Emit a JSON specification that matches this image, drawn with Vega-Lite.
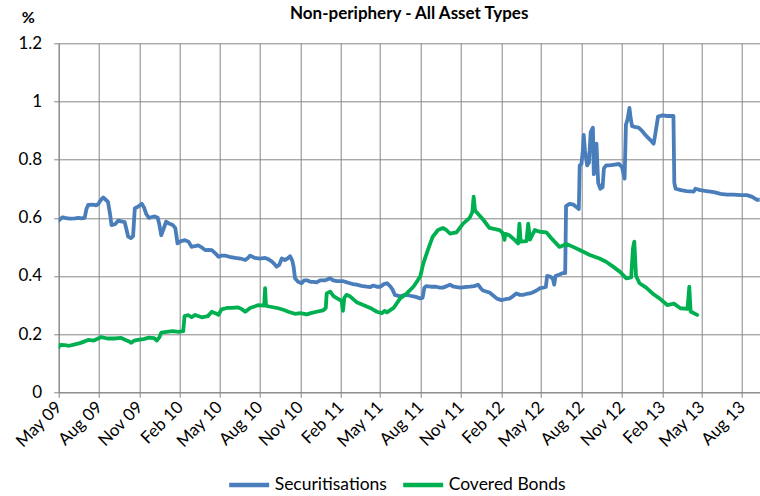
{
  "$schema": "https://vega.github.io/schema/vega-lite/v6.json",
  "autosize": "none",
  "width": 701,
  "height": 349,
  "padding": {"left": 58.7, "top": 43.3, "right": 0, "bottom": 103.7},
  "background": "white",
  "config": {"font": "Lato", "view": {"stroke": null}},
  "title": {"text": "Non-periphery - All Asset Types", "anchor": "middle", "fontSize": 17, "fontWeight": "bold", "font": "Lato", "color": "#000000", "offset": 0, "dy": 14},
  "data": {"values": [
{"date":"2009-05-01","series":"Securitisations","value":0.59},{"date":"2009-05-04","series":"Securitisations","value":0.595},{"date":"2009-05-10","series":"Securitisations","value":0.602},{"date":"2009-05-15","series":"Securitisations","value":0.6},{"date":"2009-05-25","series":"Securitisations","value":0.597},{"date":"2009-06-07","series":"Securitisations","value":0.598},{"date":"2009-06-15","series":"Securitisations","value":0.6},{"date":"2009-06-22","series":"Securitisations","value":0.598},{"date":"2009-06-29","series":"Securitisations","value":0.6},{"date":"2009-07-03","series":"Securitisations","value":0.63},{"date":"2009-07-07","series":"Securitisations","value":0.644},{"date":"2009-07-18","series":"Securitisations","value":0.645},{"date":"2009-07-25","series":"Securitisations","value":0.643},{"date":"2009-07-30","series":"Securitisations","value":0.647},{"date":"2009-08-04","series":"Securitisations","value":0.66},{"date":"2009-08-10","series":"Securitisations","value":0.67},{"date":"2009-08-16","series":"Securitisations","value":0.662},{"date":"2009-08-21","series":"Securitisations","value":0.655},{"date":"2009-08-26","series":"Securitisations","value":0.61},{"date":"2009-08-29","series":"Securitisations","value":0.575},{"date":"2009-09-06","series":"Securitisations","value":0.578},{"date":"2009-09-13","series":"Securitisations","value":0.59},{"date":"2009-09-20","series":"Securitisations","value":0.588},{"date":"2009-09-28","series":"Securitisations","value":0.585},{"date":"2009-10-02","series":"Securitisations","value":0.56},{"date":"2009-10-06","series":"Securitisations","value":0.535},{"date":"2009-10-12","series":"Securitisations","value":0.53},{"date":"2009-10-17","series":"Securitisations","value":0.537},{"date":"2009-10-21","series":"Securitisations","value":0.633},{"date":"2009-10-28","series":"Securitisations","value":0.638},{"date":"2009-11-06","series":"Securitisations","value":0.648},{"date":"2009-11-11","series":"Securitisations","value":0.635},{"date":"2009-11-16","series":"Securitisations","value":0.613},{"date":"2009-11-22","series":"Securitisations","value":0.6},{"date":"2009-11-27","series":"Securitisations","value":0.602},{"date":"2009-12-05","series":"Securitisations","value":0.605},{"date":"2009-12-12","series":"Securitisations","value":0.6},{"date":"2009-12-16","series":"Securitisations","value":0.575},{"date":"2009-12-20","series":"Securitisations","value":0.54},{"date":"2009-12-25","series":"Securitisations","value":0.56},{"date":"2009-12-31","series":"Securitisations","value":0.587},{"date":"2010-01-07","series":"Securitisations","value":0.58},{"date":"2010-01-15","series":"Securitisations","value":0.575},{"date":"2010-01-21","series":"Securitisations","value":0.565},{"date":"2010-01-26","series":"Securitisations","value":0.512},{"date":"2010-02-03","series":"Securitisations","value":0.52},{"date":"2010-02-12","series":"Securitisations","value":0.523},{"date":"2010-02-20","series":"Securitisations","value":0.518},{"date":"2010-02-27","series":"Securitisations","value":0.5},{"date":"2010-03-07","series":"Securitisations","value":0.503},{"date":"2010-03-14","series":"Securitisations","value":0.505},{"date":"2010-03-22","series":"Securitisations","value":0.498},{"date":"2010-03-30","series":"Securitisations","value":0.489},{"date":"2010-04-07","series":"Securitisations","value":0.49},{"date":"2010-04-14","series":"Securitisations","value":0.489},{"date":"2010-04-22","series":"Securitisations","value":0.478},{"date":"2010-04-29","series":"Securitisations","value":0.466},{"date":"2010-05-06","series":"Securitisations","value":0.47},{"date":"2010-05-14","series":"Securitisations","value":0.47},{"date":"2010-05-24","series":"Securitisations","value":0.466},{"date":"2010-06-06","series":"Securitisations","value":0.462},{"date":"2010-06-18","series":"Securitisations","value":0.46},{"date":"2010-06-29","series":"Securitisations","value":0.455},{"date":"2010-07-05","series":"Securitisations","value":0.462},{"date":"2010-07-10","series":"Securitisations","value":0.47},{"date":"2010-07-21","series":"Securitisations","value":0.462},{"date":"2010-08-01","series":"Securitisations","value":0.46},{"date":"2010-08-13","series":"Securitisations","value":0.462},{"date":"2010-08-20","series":"Securitisations","value":0.458},{"date":"2010-08-28","series":"Securitisations","value":0.45},{"date":"2010-09-04","series":"Securitisations","value":0.44},{"date":"2010-09-08","series":"Securitisations","value":0.432},{"date":"2010-09-14","series":"Securitisations","value":0.438},{"date":"2010-09-20","series":"Securitisations","value":0.46},{"date":"2010-09-27","series":"Securitisations","value":0.455},{"date":"2010-10-03","series":"Securitisations","value":0.46},{"date":"2010-10-09","series":"Securitisations","value":0.468},{"date":"2010-10-14","series":"Securitisations","value":0.452},{"date":"2010-10-17","series":"Securitisations","value":0.43},{"date":"2010-10-20","series":"Securitisations","value":0.392},{"date":"2010-10-27","series":"Securitisations","value":0.38},{"date":"2010-11-04","series":"Securitisations","value":0.375},{"date":"2010-11-10","series":"Securitisations","value":0.385},{"date":"2010-11-16","series":"Securitisations","value":0.385},{"date":"2010-11-24","series":"Securitisations","value":0.38},{"date":"2010-12-01","series":"Securitisations","value":0.38},{"date":"2010-12-08","series":"Securitisations","value":0.378},{"date":"2010-12-16","series":"Securitisations","value":0.385},{"date":"2010-12-28","series":"Securitisations","value":0.385},{"date":"2011-01-08","series":"Securitisations","value":0.392},{"date":"2011-01-15","series":"Securitisations","value":0.385},{"date":"2011-01-23","series":"Securitisations","value":0.382},{"date":"2011-02-07","series":"Securitisations","value":0.382},{"date":"2011-02-15","series":"Securitisations","value":0.378},{"date":"2011-02-22","series":"Securitisations","value":0.375},{"date":"2011-03-01","series":"Securitisations","value":0.372},{"date":"2011-03-09","series":"Securitisations","value":0.37},{"date":"2011-03-20","series":"Securitisations","value":0.366},{"date":"2011-04-01","series":"Securitisations","value":0.363},{"date":"2011-04-09","series":"Securitisations","value":0.362},{"date":"2011-04-16","series":"Securitisations","value":0.367},{"date":"2011-04-24","series":"Securitisations","value":0.363},{"date":"2011-05-02","series":"Securitisations","value":0.363},{"date":"2011-05-10","series":"Securitisations","value":0.372},{"date":"2011-05-17","series":"Securitisations","value":0.375},{"date":"2011-05-24","series":"Securitisations","value":0.365},{"date":"2011-05-29","series":"Securitisations","value":0.355},{"date":"2011-06-04","series":"Securitisations","value":0.335},{"date":"2011-06-16","series":"Securitisations","value":0.33},{"date":"2011-06-24","series":"Securitisations","value":0.333},{"date":"2011-07-01","series":"Securitisations","value":0.335},{"date":"2011-07-09","series":"Securitisations","value":0.332},{"date":"2011-07-16","series":"Securitisations","value":0.33},{"date":"2011-07-24","series":"Securitisations","value":0.327},{"date":"2011-07-31","series":"Securitisations","value":0.323},{"date":"2011-08-06","series":"Securitisations","value":0.325},{"date":"2011-08-10","series":"Securitisations","value":0.36},{"date":"2011-08-14","series":"Securitisations","value":0.365},{"date":"2011-08-25","series":"Securitisations","value":0.363},{"date":"2011-09-06","series":"Securitisations","value":0.363},{"date":"2011-09-14","series":"Securitisations","value":0.36},{"date":"2011-09-21","series":"Securitisations","value":0.36},{"date":"2011-09-30","series":"Securitisations","value":0.365},{"date":"2011-10-07","series":"Securitisations","value":0.37},{"date":"2011-10-16","series":"Securitisations","value":0.363},{"date":"2011-10-30","series":"Securitisations","value":0.36},{"date":"2011-11-10","series":"Securitisations","value":0.362},{"date":"2011-11-21","series":"Securitisations","value":0.363},{"date":"2011-12-01","series":"Securitisations","value":0.365},{"date":"2011-12-10","series":"Securitisations","value":0.37},{"date":"2011-12-16","series":"Securitisations","value":0.358},{"date":"2011-12-21","series":"Securitisations","value":0.35},{"date":"2012-01-05","series":"Securitisations","value":0.343},{"date":"2012-01-14","series":"Securitisations","value":0.332},{"date":"2012-01-22","series":"Securitisations","value":0.322},{"date":"2012-02-01","series":"Securitisations","value":0.317},{"date":"2012-02-10","series":"Securitisations","value":0.32},{"date":"2012-02-19","series":"Securitisations","value":0.322},{"date":"2012-02-27","series":"Securitisations","value":0.33},{"date":"2012-03-06","series":"Securitisations","value":0.34},{"date":"2012-03-14","series":"Securitisations","value":0.335},{"date":"2012-03-21","series":"Securitisations","value":0.335},{"date":"2012-03-29","series":"Securitisations","value":0.338},{"date":"2012-04-06","series":"Securitisations","value":0.34},{"date":"2012-04-14","series":"Securitisations","value":0.345},{"date":"2012-04-21","series":"Securitisations","value":0.35},{"date":"2012-04-29","series":"Securitisations","value":0.358},{"date":"2012-05-06","series":"Securitisations","value":0.36},{"date":"2012-05-12","series":"Securitisations","value":0.362},{"date":"2012-05-15","series":"Securitisations","value":0.4},{"date":"2012-05-22","series":"Securitisations","value":0.398},{"date":"2012-05-28","series":"Securitisations","value":0.39},{"date":"2012-05-31","series":"Securitisations","value":0.37},{"date":"2012-06-03","series":"Securitisations","value":0.4},{"date":"2012-06-12","series":"Securitisations","value":0.405},{"date":"2012-06-20","series":"Securitisations","value":0.41},{"date":"2012-06-25","series":"Securitisations","value":0.41},{"date":"2012-06-27","series":"Securitisations","value":0.64},{"date":"2012-07-05","series":"Securitisations","value":0.648},{"date":"2012-07-14","series":"Securitisations","value":0.645},{"date":"2012-07-22","series":"Securitisations","value":0.635},{"date":"2012-07-26","series":"Securitisations","value":0.63},{"date":"2012-07-28","series":"Securitisations","value":0.78},{"date":"2012-08-01","series":"Securitisations","value":0.785},{"date":"2012-08-04","series":"Securitisations","value":0.83},{"date":"2012-08-06","series":"Securitisations","value":0.885},{"date":"2012-08-09","series":"Securitisations","value":0.83},{"date":"2012-08-14","series":"Securitisations","value":0.78},{"date":"2012-08-18","series":"Securitisations","value":0.79},{"date":"2012-08-22","series":"Securitisations","value":0.895},{"date":"2012-08-27","series":"Securitisations","value":0.91},{"date":"2012-08-29","series":"Securitisations","value":0.75},{"date":"2012-09-01","series":"Securitisations","value":0.78},{"date":"2012-09-04","series":"Securitisations","value":0.855},{"date":"2012-09-08","series":"Securitisations","value":0.72},{"date":"2012-09-13","series":"Securitisations","value":0.7},{"date":"2012-09-18","series":"Securitisations","value":0.705},{"date":"2012-09-21","series":"Securitisations","value":0.77},{"date":"2012-09-26","series":"Securitisations","value":0.78},{"date":"2012-10-02","series":"Securitisations","value":0.78},{"date":"2012-10-12","series":"Securitisations","value":0.782},{"date":"2012-10-25","series":"Securitisations","value":0.785},{"date":"2012-11-01","series":"Securitisations","value":0.775},{"date":"2012-11-07","series":"Securitisations","value":0.735},{"date":"2012-11-10","series":"Securitisations","value":0.92},{"date":"2012-11-14","series":"Securitisations","value":0.94},{"date":"2012-11-18","series":"Securitisations","value":0.978},{"date":"2012-11-21","series":"Securitisations","value":0.94},{"date":"2012-11-24","series":"Securitisations","value":0.915},{"date":"2012-12-02","series":"Securitisations","value":0.912},{"date":"2012-12-09","series":"Securitisations","value":0.91},{"date":"2012-12-16","series":"Securitisations","value":0.9},{"date":"2012-12-24","series":"Securitisations","value":0.885},{"date":"2013-01-03","series":"Securitisations","value":0.87},{"date":"2013-01-12","series":"Securitisations","value":0.855},{"date":"2013-01-16","series":"Securitisations","value":0.89},{"date":"2013-01-22","series":"Securitisations","value":0.948},{"date":"2013-02-01","series":"Securitisations","value":0.952},{"date":"2013-02-12","series":"Securitisations","value":0.95},{"date":"2013-02-26","series":"Securitisations","value":0.95},{"date":"2013-02-28","series":"Securitisations","value":0.72},{"date":"2013-03-03","series":"Securitisations","value":0.7},{"date":"2013-03-15","series":"Securitisations","value":0.695},{"date":"2013-03-28","series":"Securitisations","value":0.692},{"date":"2013-04-13","series":"Securitisations","value":0.69},{"date":"2013-04-17","series":"Securitisations","value":0.7},{"date":"2013-04-28","series":"Securitisations","value":0.695},{"date":"2013-05-12","series":"Securitisations","value":0.692},{"date":"2013-05-29","series":"Securitisations","value":0.688},{"date":"2013-06-13","series":"Securitisations","value":0.682},{"date":"2013-06-28","series":"Securitisations","value":0.68},{"date":"2013-07-13","series":"Securitisations","value":0.68},{"date":"2013-07-28","series":"Securitisations","value":0.678},{"date":"2013-08-12","series":"Securitisations","value":0.678},{"date":"2013-08-24","series":"Securitisations","value":0.672},{"date":"2013-09-04","series":"Securitisations","value":0.662},{"date":"2013-09-10","series":"Securitisations","value":0.662},
{"date":"2009-05-01","series":"Covered Bonds","value":0.155},{"date":"2009-05-04","series":"Covered Bonds","value":0.163},{"date":"2009-05-15","series":"Covered Bonds","value":0.162},{"date":"2009-05-25","series":"Covered Bonds","value":0.16},{"date":"2009-06-07","series":"Covered Bonds","value":0.165},{"date":"2009-06-20","series":"Covered Bonds","value":0.17},{"date":"2009-07-07","series":"Covered Bonds","value":0.18},{"date":"2009-07-20","series":"Covered Bonds","value":0.178},{"date":"2009-08-06","series":"Covered Bonds","value":0.19},{"date":"2009-08-20","series":"Covered Bonds","value":0.185},{"date":"2009-09-05","series":"Covered Bonds","value":0.185},{"date":"2009-09-20","series":"Covered Bonds","value":0.187},{"date":"2009-09-30","series":"Covered Bonds","value":0.18},{"date":"2009-10-08","series":"Covered Bonds","value":0.175},{"date":"2009-10-13","series":"Covered Bonds","value":0.17},{"date":"2009-10-20","series":"Covered Bonds","value":0.178},{"date":"2009-10-28","series":"Covered Bonds","value":0.18},{"date":"2009-11-10","series":"Covered Bonds","value":0.183},{"date":"2009-11-22","series":"Covered Bonds","value":0.188},{"date":"2009-12-04","series":"Covered Bonds","value":0.186},{"date":"2009-12-10","series":"Covered Bonds","value":0.178},{"date":"2009-12-16","series":"Covered Bonds","value":0.19},{"date":"2009-12-20","series":"Covered Bonds","value":0.205},{"date":"2010-01-01","series":"Covered Bonds","value":0.208},{"date":"2010-01-15","series":"Covered Bonds","value":0.21},{"date":"2010-01-28","series":"Covered Bonds","value":0.208},{"date":"2010-02-08","series":"Covered Bonds","value":0.21},{"date":"2010-02-11","series":"Covered Bonds","value":0.262},{"date":"2010-02-20","series":"Covered Bonds","value":0.265},{"date":"2010-02-27","series":"Covered Bonds","value":0.258},{"date":"2010-03-07","series":"Covered Bonds","value":0.266},{"date":"2010-03-22","series":"Covered Bonds","value":0.258},{"date":"2010-04-05","series":"Covered Bonds","value":0.262},{"date":"2010-04-14","series":"Covered Bonds","value":0.277},{"date":"2010-04-22","series":"Covered Bonds","value":0.272},{"date":"2010-04-29","series":"Covered Bonds","value":0.266},{"date":"2010-05-06","series":"Covered Bonds","value":0.285},{"date":"2010-05-18","series":"Covered Bonds","value":0.29},{"date":"2010-05-29","series":"Covered Bonds","value":0.29},{"date":"2010-06-13","series":"Covered Bonds","value":0.292},{"date":"2010-06-22","series":"Covered Bonds","value":0.285},{"date":"2010-06-29","series":"Covered Bonds","value":0.277},{"date":"2010-07-10","series":"Covered Bonds","value":0.29},{"date":"2010-07-20","series":"Covered Bonds","value":0.295},{"date":"2010-07-29","series":"Covered Bonds","value":0.3},{"date":"2010-08-11","series":"Covered Bonds","value":0.298},{"date":"2010-08-13","series":"Covered Bonds","value":0.358},{"date":"2010-08-15","series":"Covered Bonds","value":0.298},{"date":"2010-08-22","series":"Covered Bonds","value":0.295},{"date":"2010-09-12","series":"Covered Bonds","value":0.289},{"date":"2010-09-25","series":"Covered Bonds","value":0.283},{"date":"2010-10-05","series":"Covered Bonds","value":0.277},{"date":"2010-10-20","series":"Covered Bonds","value":0.27},{"date":"2010-11-01","series":"Covered Bonds","value":0.272},{"date":"2010-11-16","series":"Covered Bonds","value":0.268},{"date":"2010-11-25","series":"Covered Bonds","value":0.272},{"date":"2010-12-08","series":"Covered Bonds","value":0.277},{"date":"2010-12-23","series":"Covered Bonds","value":0.282},{"date":"2010-12-29","series":"Covered Bonds","value":0.29},{"date":"2010-12-31","series":"Covered Bonds","value":0.34},{"date":"2011-01-08","series":"Covered Bonds","value":0.346},{"date":"2011-01-16","series":"Covered Bonds","value":0.33},{"date":"2011-01-27","series":"Covered Bonds","value":0.32},{"date":"2011-02-03","series":"Covered Bonds","value":0.315},{"date":"2011-02-06","series":"Covered Bonds","value":0.28},{"date":"2011-02-09","series":"Covered Bonds","value":0.325},{"date":"2011-02-14","series":"Covered Bonds","value":0.335},{"date":"2011-02-22","series":"Covered Bonds","value":0.33},{"date":"2011-03-09","series":"Covered Bonds","value":0.31},{"date":"2011-03-24","series":"Covered Bonds","value":0.3},{"date":"2011-04-09","series":"Covered Bonds","value":0.29},{"date":"2011-04-24","series":"Covered Bonds","value":0.277},{"date":"2011-05-05","series":"Covered Bonds","value":0.272},{"date":"2011-05-12","series":"Covered Bonds","value":0.28},{"date":"2011-05-17","series":"Covered Bonds","value":0.275},{"date":"2011-06-01","series":"Covered Bonds","value":0.29},{"date":"2011-06-16","series":"Covered Bonds","value":0.323},{"date":"2011-07-01","series":"Covered Bonds","value":0.34},{"date":"2011-07-16","series":"Covered Bonds","value":0.363},{"date":"2011-07-26","series":"Covered Bonds","value":0.385},{"date":"2011-08-01","series":"Covered Bonds","value":0.4},{"date":"2011-08-07","series":"Covered Bonds","value":0.44},{"date":"2011-08-18","series":"Covered Bonds","value":0.49},{"date":"2011-08-29","series":"Covered Bonds","value":0.535},{"date":"2011-09-10","series":"Covered Bonds","value":0.558},{"date":"2011-09-21","series":"Covered Bonds","value":0.565},{"date":"2011-09-29","series":"Covered Bonds","value":0.558},{"date":"2011-10-07","series":"Covered Bonds","value":0.546},{"date":"2011-10-22","series":"Covered Bonds","value":0.55},{"date":"2011-11-06","series":"Covered Bonds","value":0.58},{"date":"2011-11-21","series":"Covered Bonds","value":0.6},{"date":"2011-11-27","series":"Covered Bonds","value":0.62},{"date":"2011-11-30","series":"Covered Bonds","value":0.673},{"date":"2011-12-03","series":"Covered Bonds","value":0.625},{"date":"2011-12-06","series":"Covered Bonds","value":0.62},{"date":"2011-12-21","series":"Covered Bonds","value":0.595},{"date":"2012-01-05","series":"Covered Bonds","value":0.565},{"date":"2012-01-28","series":"Covered Bonds","value":0.558},{"date":"2012-02-04","series":"Covered Bonds","value":0.548},{"date":"2012-02-08","series":"Covered Bonds","value":0.524},{"date":"2012-02-10","series":"Covered Bonds","value":0.545},{"date":"2012-02-19","series":"Covered Bonds","value":0.54},{"date":"2012-03-02","series":"Covered Bonds","value":0.524},{"date":"2012-03-10","series":"Covered Bonds","value":0.512},{"date":"2012-03-13","series":"Covered Bonds","value":0.58},{"date":"2012-03-16","series":"Covered Bonds","value":0.518},{"date":"2012-03-29","series":"Covered Bonds","value":0.52},{"date":"2012-04-02","series":"Covered Bonds","value":0.58},{"date":"2012-04-06","series":"Covered Bonds","value":0.525},{"date":"2012-04-17","series":"Covered Bonds","value":0.558},{"date":"2012-04-28","series":"Covered Bonds","value":0.552},{"date":"2012-05-13","series":"Covered Bonds","value":0.55},{"date":"2012-05-28","series":"Covered Bonds","value":0.524},{"date":"2012-06-12","series":"Covered Bonds","value":0.5},{"date":"2012-06-28","series":"Covered Bonds","value":0.51},{"date":"2012-07-13","series":"Covered Bonds","value":0.5},{"date":"2012-07-28","series":"Covered Bonds","value":0.489},{"date":"2012-08-20","series":"Covered Bonds","value":0.472},{"date":"2012-09-11","series":"Covered Bonds","value":0.46},{"date":"2012-09-26","series":"Covered Bonds","value":0.449},{"date":"2012-10-11","series":"Covered Bonds","value":0.433},{"date":"2012-10-27","series":"Covered Bonds","value":0.415},{"date":"2012-11-11","series":"Covered Bonds","value":0.392},{"date":"2012-11-22","series":"Covered Bonds","value":0.395},{"date":"2012-11-26","series":"Covered Bonds","value":0.495},{"date":"2012-11-29","series":"Covered Bonds","value":0.518},{"date":"2012-12-03","series":"Covered Bonds","value":0.4},{"date":"2012-12-11","series":"Covered Bonds","value":0.375},{"date":"2012-12-26","series":"Covered Bonds","value":0.36},{"date":"2013-01-11","series":"Covered Bonds","value":0.338},{"date":"2013-01-26","series":"Covered Bonds","value":0.322},{"date":"2013-02-12","series":"Covered Bonds","value":0.3},{"date":"2013-02-27","series":"Covered Bonds","value":0.305},{"date":"2013-03-14","series":"Covered Bonds","value":0.289},{"date":"2013-03-30","series":"Covered Bonds","value":0.287},{"date":"2013-04-03","series":"Covered Bonds","value":0.363},{"date":"2013-04-06","series":"Covered Bonds","value":0.278},{"date":"2013-04-21","series":"Covered Bonds","value":0.266}
  ]},
  "mark": {"type": "line", "strokeWidth": 3.8, "strokeJoin": "round", "strokeCap": "round", "clip": true},
  "encoding": {
    "x": {"field": "date", "type": "temporal", "scale": {"type": "utc", "domain": [{"year": 2009, "month": 5, "date": 1, "utc": true}, {"year": 2013, "month": 9, "date": 10, "utc": true}]},
      "axis": {"title": null, "format": "%b %y", "labelAngle": -45, "labelAlign": "right", "labelBaseline": "middle", "labelOverlap": false, "labelFontSize": 17, "labelColor": "#000000", "labelFont": "Lato", "labelPadding": 7, "tickSize": 5, "tickColor": "#868686", "domainColor": "#868686", "gridColor": "#868686", "grid": true,
        "values": [
          {"year": 2009, "month": 5, "date": 1, "utc": true},{"year": 2009, "month": 8, "date": 1, "utc": true},{"year": 2009, "month": 11, "date": 1, "utc": true},
          {"year": 2010, "month": 2, "date": 1, "utc": true},{"year": 2010, "month": 5, "date": 1, "utc": true},{"year": 2010, "month": 8, "date": 1, "utc": true},{"year": 2010, "month": 11, "date": 1, "utc": true},
          {"year": 2011, "month": 2, "date": 1, "utc": true},{"year": 2011, "month": 5, "date": 1, "utc": true},{"year": 2011, "month": 8, "date": 1, "utc": true},{"year": 2011, "month": 11, "date": 1, "utc": true},
          {"year": 2012, "month": 2, "date": 1, "utc": true},{"year": 2012, "month": 5, "date": 1, "utc": true},{"year": 2012, "month": 8, "date": 1, "utc": true},{"year": 2012, "month": 11, "date": 1, "utc": true},
          {"year": 2013, "month": 2, "date": 1, "utc": true},{"year": 2013, "month": 5, "date": 1, "utc": true},{"year": 2013, "month": 8, "date": 1, "utc": true}
        ]}},
    "y": {"field": "value", "type": "quantitative", "scale": {"domain": [0, 1.2], "nice": false},
      "axis": {"title": "%", "titleAngle": 0, "titleX": -31, "titleY": -26, "titleAlign": "center", "titleBaseline": "middle", "titleFontSize": 16, "titleFontWeight": "bold", "titleFont": "Lato", "titleColor": "#000000",
        "values": [0, 0.2, 0.4, 0.6, 0.8, 1, 1.2], "format": "~g", "labelFontSize": 17, "labelColor": "#000000", "labelFont": "Lato", "labelPadding": 12, "tickSize": 5, "tickColor": "#868686", "domainColor": "#868686", "gridColor": "#868686"}},
    "color": {"field": "series", "type": "nominal", "sort": ["Securitisations", "Covered Bonds"], "scale": {"domain": ["Securitisations", "Covered Bonds"], "range": ["#4A7EBB", "#00B050"]},
      "legend": {"title": null, "orient": "none", "legendX": 168, "legendY": 419, "direction": "horizontal", "padding": 0, "symbolType": "stroke", "symbolSize": 1600, "symbolStrokeWidth": 4.5, "labelFontSize": 17.5, "labelFont": "Lato", "labelColor": "#000000", "labelOffset": 3, "columnPadding": 6}}
  }
}
